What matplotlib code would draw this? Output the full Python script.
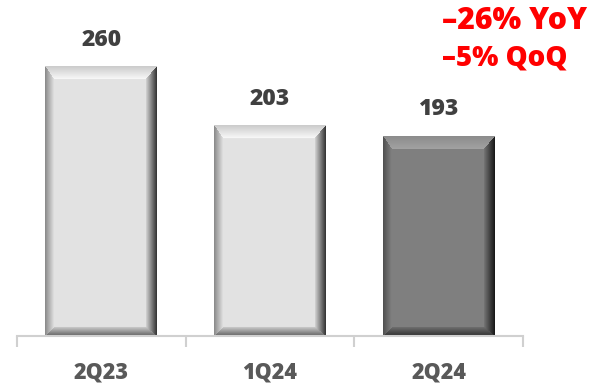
import numpy as np
import matplotlib.pyplot as plt

categories = ['2Q23', '1Q24', '2Q24']
values = [260, 203, 193]
changes = ['–26% YoY', '–5% QoQ']

# grey levels per bar: base face plus (outer, inner) shade of top/left/right/bottom bevels
light = (0.89, [(0.80, 0.98), (0.55, 0.90), (0.22, 0.86), (0.40, 0.82)])
dark = (0.50, [(0.55, 0.64), (0.32, 0.52), (0.10, 0.48), (0.20, 0.45)])
styles = [light, light, dark]

FONT = 'Open Sans'
HEAVY = 'heavy'


def bevel(w, h, base, shades, edges=(13, 9, 11, 9)):
    top, left, right, bottom = edges
    yy, xx = np.mgrid[0:h, 0:w].astype(float)
    d = np.stack([yy / top, xx / left, (w - 1 - xx) / right, (h - 1 - yy) / bottom])
    side = d.argmin(0)
    t = np.clip(d.min(0), 0, 1)
    img = np.full((h, w), base)
    for k, (outer, inner) in enumerate(shades):
        m = (side == k) & (t < 1)
        img[m] = outer + (inner - outer) * t[m]
    return np.dstack([img] * 3)


fig = plt.figure(figsize=(5.9, 3.89), dpi=100)
ax = fig.add_axes([17 / 590, 53 / 389, 506 / 590, 310.5 / 389])
ax.set_xlim(-0.5, 2.5)
ax.set_ylim(0, 300)

width = 0.664
for i, (v, (base, shades)) in enumerate(zip(values, styles)):
    x0, y0 = ax.transData.transform((i - width / 2, 0))
    x1, y1 = ax.transData.transform((i + width / 2, v))
    img = bevel(int(round(x1 - x0)), int(round(y1 - y0)), base, shades)
    ax.imshow(img, extent=(i - width / 2, i + width / 2, 0, v), origin='upper',
              aspect='auto', interpolation='bilinear', zorder=2)
    ax.text(i, v + 20.5, str(v), ha='center', va='baseline', fontsize=16.5,
            fontweight=HEAVY, color='#404040', family=FONT)

ax.set_xlim(-0.5, 2.5)
ax.set_ylim(0, 300)

for s in ['top', 'left', 'right']:
    ax.spines[s].set_visible(False)
ax.spines['bottom'].set_color('#d0d0d0')
ax.spines['bottom'].set_linewidth(1.5)
ax.set_yticks([])
ax.set_xticks([-0.5, 0.5, 1.5, 2.5])
ax.set_xticklabels([])
ax.tick_params(axis='x', length=8, width=1.5, color='#d0d0d0')

# category names under the axis
for i, cat in enumerate(categories):
    ax.text(i, -43 / 310.5, cat, transform=ax.get_xaxis_transform(), ha='center',
            va='baseline', fontsize=15.5, fontweight=HEAVY, color='#595959', family=FONT)

for txt, size, base_y in zip(changes, [21.8, 20], [29, 65]):
    fig.text(442 / 590, 1 - base_y / 389, txt, ha='left', va='baseline',
             fontsize=size, fontweight=HEAVY, color='#ff0000', family=FONT)

fig.savefig('out.png', dpi=100)
